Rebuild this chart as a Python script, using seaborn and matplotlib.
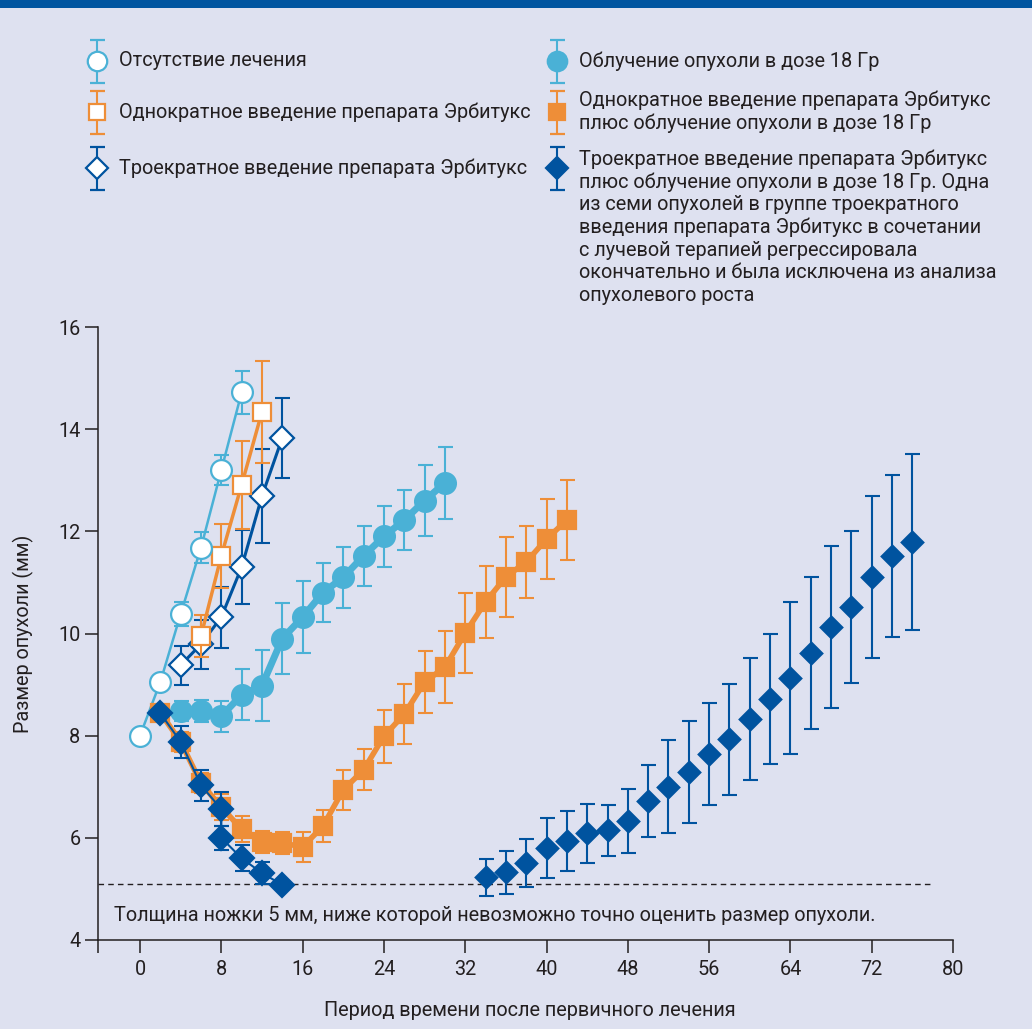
import matplotlib
matplotlib.use("Agg")
import matplotlib.pyplot as plt
import seaborn as sns

# --- data (tumour size, mm, mean +/- error) ---
x_none = [0, 2, 4, 6, 8, 10]
y_none = [8.0, 9.05, 10.38, 11.68, 13.2, 14.72]
e_none = [0, 0, 0.24, 0.3, 0.3, 0.42]

x_erb1 = [6, 8, 10, 12]
y_erb1 = [9.95, 11.52, 12.91, 14.34]
e_erb1 = [0.41, 0.62, 0.86, 1.0]

x_erb3 = [4, 6, 8, 10, 12, 14]
y_erb3 = [9.38, 9.79, 10.32, 11.3, 12.69, 13.83]
e_erb3 = [0.38, 0.48, 0.6, 0.73, 0.92, 0.79]

x_rad = [4, 6, 8, 10, 12, 14, 16, 18, 20, 22, 24, 26, 28, 30]
y_rad = [8.48, 8.48, 8.38, 8.8, 8.98, 9.9, 10.32, 10.8, 11.1, 11.52, 11.9, 12.22, 12.6, 12.95]
e_rad = [0.2, 0.22, 0.3, 0.5, 0.7, 0.7, 0.7, 0.58, 0.6, 0.59, 0.59, 0.59, 0.69, 0.7]

x_erb1_rad = [2, 4, 6, 8, 10, 12, 14, 16, 18, 20, 22, 24, 26, 28, 30, 32, 34, 36, 38, 40, 42]
y_erb1_rad = [8.45, 7.88, 7.07, 6.6, 6.17, 5.92, 5.9, 5.82, 6.23, 6.94, 7.33, 7.99, 8.42,
              9.05, 9.34, 10.01, 10.62, 11.11, 11.4, 11.85, 12.22]
e_erb1_rad = [0, 0.2, 0.2, 0.25, 0.25, 0.22, 0.22, 0.3, 0.31, 0.39, 0.4, 0.52, 0.59,
              0.6, 0.7, 0.78, 0.71, 0.78, 0.7, 0.78, 0.78]

x_erb3_rad_early = [2, 4, 6, 8, 8, 10, 12, 14]
y_erb3_rad_early = [8.44, 7.88, 7.03, 6.56, 6.0, 5.6, 5.31, 5.08]
e_erb3_rad_early = [0, 0.31, 0.3, 0.33, 0.23, 0.25, 0.21, 0]

x_erb3_rad_late = [34, 36, 38, 40, 42, 44, 46, 48, 50, 52, 54, 56, 58, 60, 62, 64, 66, 68, 70, 72, 74, 76]
y_erb3_rad_late = [5.23, 5.33, 5.51, 5.8, 5.94, 6.09, 6.15, 6.33, 6.72, 7.0, 7.29, 7.64, 7.93,
                   8.33, 8.72, 9.13, 9.62, 10.13, 10.52, 11.11, 11.52, 11.79]
e_erb3_rad_late = [0.36, 0.42, 0.47, 0.58, 0.58, 0.58, 0.5, 0.62, 0.7, 0.91, 1.0, 1.0, 1.09,
                   1.2, 1.28, 1.49, 1.49, 1.58, 1.48, 1.58, 1.58, 1.72]

x_ticks = [0, 8, 16, 24, 32, 40, 48, 56, 64, 72, 80]
y_ticks = [4, 6, 8, 10, 12, 14, 16]
limit_mm = 5.1

legend_labels = [
    "Отсутствие лечения",
    "Однократное введение препарата Эрбитукс",
    "Троекратное введение препарата Эрбитукс",
    "Облучение опухоли в дозе 18 Гр",
    "Однократное введение препарата Эрбитукс\nплюс облучение опухоли в дозе 18 Гр",
    "Троекратное введение препарата Эрбитукс\nплюс облучение опухоли в дозе 18 Гр. Одна\n"
    "из семи опухолей в группе троекратного\nвведения препарата Эрбитукс в сочетании\n"
    "с лучевой терапией регрессировала\nокончательно и была исключена из анализа\n"
    "опухолевого роста",
]
note = "Толщина ножки 5 мм, ниже которой невозможно точно оценить размер опухоли."
xlabel = "Период времени после первичного лечения"
ylabel = "Размер опухоли (мм)"

# --- style ---
LIGHT = "#4AB1D6"
ORANGE = "#EE8E38"
DARK = "#00539F"
BG = "#DEE1F0"
INK = "#231F20"
FS = 14.3

sns.set_theme(style="ticks")
plt.rcParams["font.family"] = ["Roboto", "DejaVu Sans"]
plt.rcParams["text.color"] = INK
plt.rcParams["axes.labelcolor"] = INK

fig = plt.figure(figsize=(10.32, 10.29), dpi=100, facecolor=BG)
fig.add_artist(plt.Rectangle((0, 1 - 8 / 1029), 1, 8 / 1029, transform=fig.transFigure,
                             color="#0055A0", lw=0))

ax = fig.add_axes([0.0947, 0.0865, 0.8288, 0.5957], facecolor=BG)


def draw(xs, ys, errs, color, marker, ms, face, lw, z, line=True):
    ax.errorbar(xs, ys, yerr=errs, fmt="none", ecolor=color, elinewidth=1.5,
                capsize=5.4, capthick=1.5, zorder=z)
    if line:
        sns.lineplot(x=xs, y=ys, estimator=None, sort=False, color=color, lw=lw,
                     marker=marker, markersize=ms, markerfacecolor=face,
                     markeredgecolor=color, markeredgewidth=1.6, ax=ax, zorder=z + 0.5)
    else:
        sns.scatterplot(x=xs, y=ys, marker=marker, s=(ms * 1.05) ** 2, color=color,
                        edgecolor=color, linewidth=0, ax=ax, zorder=z + 0.5)


draw(x_rad, y_rad, e_rad, LIGHT, "o", 15, LIGHT, 5, 2)
draw(x_erb3, y_erb3, e_erb3, DARK, "D", 12, "white", 2.2, 3)
draw(x_erb1, y_erb1, e_erb1, ORANGE, "s", 12.5, "white", 2.5, 4)
draw(x_none, y_none, e_none, LIGHT, "o", 15, "white", 1.8, 5)
draw(x_erb1_rad, y_erb1_rad, e_erb1_rad, ORANGE, "s", 12.5, ORANGE, 4, 6)
draw(x_erb3_rad_early, y_erb3_rad_early, e_erb3_rad_early, DARK, "D", 12, DARK, 1.5, 7)
draw(x_erb3_rad_late, y_erb3_rad_late, e_erb3_rad_late, DARK, "D", 12, DARK, 1.5, 7, line=False)

x_left = -4.16
ax.plot([x_left, 78], [limit_mm, limit_mm], ls=(0, (4, 3)), color=INK, lw=1.0, zorder=1)
ax.text(-2.6, 4.47, note, fontsize=FS, va="center", ha="left", color=INK)

ax.set_xlim(x_left, 80)
ax.set_ylim(4, 16)
ax.set_xticks(x_ticks)
ax.set_yticks(y_ticks)
ax.set_xticks([x_left], minor=True)
ax.tick_params(axis="both", which="both", direction="out", length=9.4, width=1.1,
               colors=INK, labelsize=FS)
ax.tick_params(axis="x", pad=5)
ax.tick_params(axis="y", pad=3)
sns.despine(ax=ax)
for s in ("left", "bottom"):
    ax.spines[s].set_color(INK)
    ax.spines[s].set_linewidth(1.1)

ax.set_xlabel(xlabel, fontsize=FS)
ax.set_ylabel(ylabel, fontsize=FS)
ax.xaxis.set_label_coords(0.505, -0.1)
ax.yaxis.set_label_coords(-0.074, 0.5)

# --- legend drawn in pixel space above the plot ---
lg = fig.add_axes([0, 0, 1, 1], facecolor="none")
lg.set_xlim(0, 1032)
lg.set_ylim(1029, 0)
lg.axis("off")

leg_style = [
    (LIGHT, "o", 14, "white"),
    (ORANGE, "s", 12, "white"),
    (DARK, "D", 11.5, "white"),
    (LIGHT, "o", 14, LIGHT),
    (ORANGE, "s", 12, ORANGE),
    (DARK, "D", 11.5, DARK),
]
leg_pos = [(97, 61, 61), (97, 112, 112), (97, 168, 168),
           (557, 61, 61), (557, 112, 112), (557, 168, 227)]
for label, (c, m, ms, fc), (mx, my, ty) in zip(legend_labels, leg_style, leg_pos):
    lg.errorbar([mx], [my], yerr=[21.5], fmt=m, ms=ms, mfc=fc, mec=c, mew=1.6,
                ecolor=c, elinewidth=1.5, capsize=5.4, capthick=1.5)
    lg.text(mx + 22, ty, label, fontsize=FS, va="center", ha="left",
            linespacing=1.23, color=INK)

fig.savefig("out.png", dpi=100, facecolor=BG)
